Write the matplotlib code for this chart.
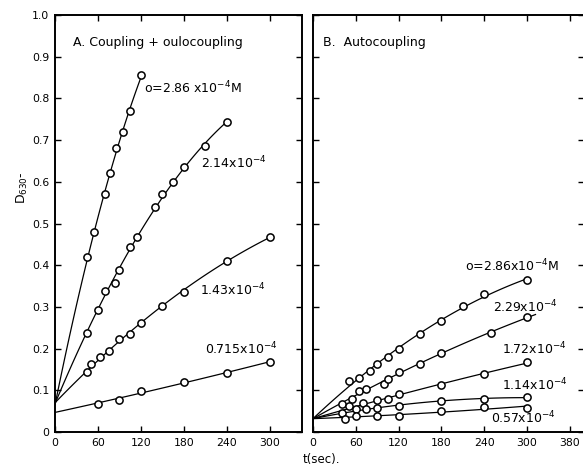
import numpy as np
import matplotlib
matplotlib.use("Agg")
import matplotlib.pyplot as plt

plt.rcParams['font.family'] = ['DejaVu Sans']

# ---- Panel A: Coupling + autocoupling ----
A_x_286 = [45, 55, 70, 77, 85, 95, 105, 120]
A_y_286 = [0.42, 0.48, 0.57, 0.622, 0.68, 0.72, 0.77, 0.855]
A_x_214 = [45, 60, 70, 84, 90, 105, 115, 140, 150, 165, 180, 210, 240]
A_y_214 = [0.238, 0.292, 0.338, 0.358, 0.388, 0.444, 0.468, 0.54, 0.571, 0.60, 0.636, 0.686, 0.744]
A_x_143 = [45, 50, 63, 75, 90, 105, 120, 150, 180, 240, 300]
A_y_143 = [0.144, 0.162, 0.181, 0.195, 0.222, 0.236, 0.262, 0.302, 0.336, 0.41, 0.468]
A_x_0715 = [60, 90, 120, 180, 240, 300]
A_y_0715 = [0.0665, 0.076, 0.0985, 0.12, 0.142, 0.168]
A_intercepts = [0.065, 0.068, 0.070, 0.047]
A_labels = ["o=2.86 x10$^{-4}$M", "2.14x10$^{-4}$", "1.43x10$^{-4}$", "0.715x10$^{-4}$"]

# ---- Panel B: Autocoupling ----
B_x_286 = [50, 65, 80, 90, 105, 120, 150, 180, 210, 240, 300]
B_y_286 = [0.122, 0.13, 0.147, 0.162, 0.179, 0.199, 0.235, 0.267, 0.302, 0.33, 0.364]
B_x_229 = [40, 55, 65, 75, 100, 105, 120, 150, 180, 250, 300]
B_y_229 = [0.068, 0.080, 0.098, 0.103, 0.116, 0.128, 0.144, 0.164, 0.19, 0.238, 0.275]
B_x_172 = [50, 70, 90, 105, 120, 180, 240, 300]
B_y_172 = [0.062, 0.07, 0.076, 0.078, 0.09, 0.112, 0.138, 0.168]
B_x_114 = [40, 60, 75, 90, 120, 180, 240, 300]
B_y_114 = [0.046, 0.055, 0.054, 0.058, 0.062, 0.075, 0.078, 0.084]
B_x_057 = [45, 60, 90, 120, 180, 240, 300]
B_y_057 = [0.030, 0.038, 0.038, 0.038, 0.05, 0.06, 0.0585]
B_intercepts = [0.032, 0.032, 0.032, 0.032, 0.032]
B_line_end = [300, 312, 300, 300, 300]
B_labels = ["o=2.86x10$^{-4}$M", "2.29x10$^{-4}$", "1.72x10$^{-4}$", "1.14x10$^{-4}$", "0.57x10$^{-4}$"]

x_ticks = [0, 60, 120, 180, 240, 300]
x_ticklabels = ["0", "60", "120", "180", "240", "300"]
B_x_ticks = [0, 60, 120, 180, 240, 300, 360]
B_x_ticklabels = ["0", "60", "120", "180", "240", "300", "380"]
y_ticks = [0, 0.1, 0.2, 0.3, 0.4, 0.5, 0.6, 0.7, 0.8, 0.9, 1.0]
y_ticklabels = ["0", "0.1", "0.2", "0.3", "0.4", "0.5", "0.6", "0.7", "0.8", "0.9", "1.0"]

fig = plt.figure(figsize=(5.83, 4.72), dpi=100)
axA = fig.add_axes([55/583, 40/472, 247/583, 417/472])
axB = fig.add_axes([313/583, 40/472, 271/583, 417/472])


def curve(ax, xs, ys, b0, xend):
    xx = np.array([0] + list(xs), float)
    yy = np.array([b0] + list(ys), float)
    w = np.ones_like(xx)
    w[0] = 10
    c = np.polyfit(xx, yy, 2, w=w)
    t = np.linspace(0, xend, 100)
    ax.plot(t, np.polyval(c, t), color='black', lw=0.9, zorder=2)
    ax.plot(xs, ys, 'o', mfc='white', mec='black', mew=1.1, ms=5.2, zorder=3)


A_series = [(A_x_286, A_y_286), (A_x_214, A_y_214), (A_x_143, A_y_143), (A_x_0715, A_y_0715)]
for (xs, ys), b0 in zip(A_series, A_intercepts):
    curve(axA, xs, ys, b0, xs[-1])

B_series = [(B_x_286, B_y_286), (B_x_229, B_y_229), (B_x_172, B_y_172), (B_x_114, B_y_114), (B_x_057, B_y_057)]
for (xs, ys), b0, xe in zip(B_series, B_intercepts, B_line_end):
    curve(axB, xs, ys, b0, xe)

fs = 9
# panel A labels
A_label_pos = [(124, 0.826), (204, 0.644), (203, 0.341), (210, 0.199)]
for (lx, ly), lab in zip(A_label_pos, A_labels):
    axA.text(lx, ly, lab, fontsize=fs, va='center', ha='left')
axA.text(25, 0.935, "A. Coupling + oulocoupling", fontsize=fs, va='center', ha='left')

B_label_pos = [(213, 0.398), (252, 0.30), (265, 0.20), (265, 0.112), (250, 0.033)]
for (lx, ly), lab in zip(B_label_pos, B_labels):
    axB.text(lx, ly, lab, fontsize=fs, va='center', ha='left')
axB.text(14, 0.935, "B.  Autocoupling", fontsize=fs, va='center', ha='left')

for ax in (axA, axB):
    ax.set_ylim(0, 1.0)
    ax.set_yticks(y_ticks)
    ax.tick_params(direction='in', length=4, width=1.0, top=True, right=True,
                   labelsize=7.8, pad=4)
    for s in ax.spines.values():
        s.set_linewidth(1.4)

axA.set_xlim(0, 345)
axA.set_xticks(x_ticks)
axA.set_xticklabels(x_ticklabels)
axA.set_yticklabels(y_ticklabels)

axB.set_xlim(0, 380)
axB.set_xticks(B_x_ticks)
axB.set_xticklabels(B_x_ticklabels)
axB.tick_params(labelleft=False)

fig.text(22/583, 1 - 188/472, "D$_{630}$-", rotation=90, fontsize=9, ha='center', va='center')
fig.text(303/583, 1 - 460/472, "t(sec).", fontsize=8.5, ha='left', va='center')

fig.savefig("out.png", dpi=100)
